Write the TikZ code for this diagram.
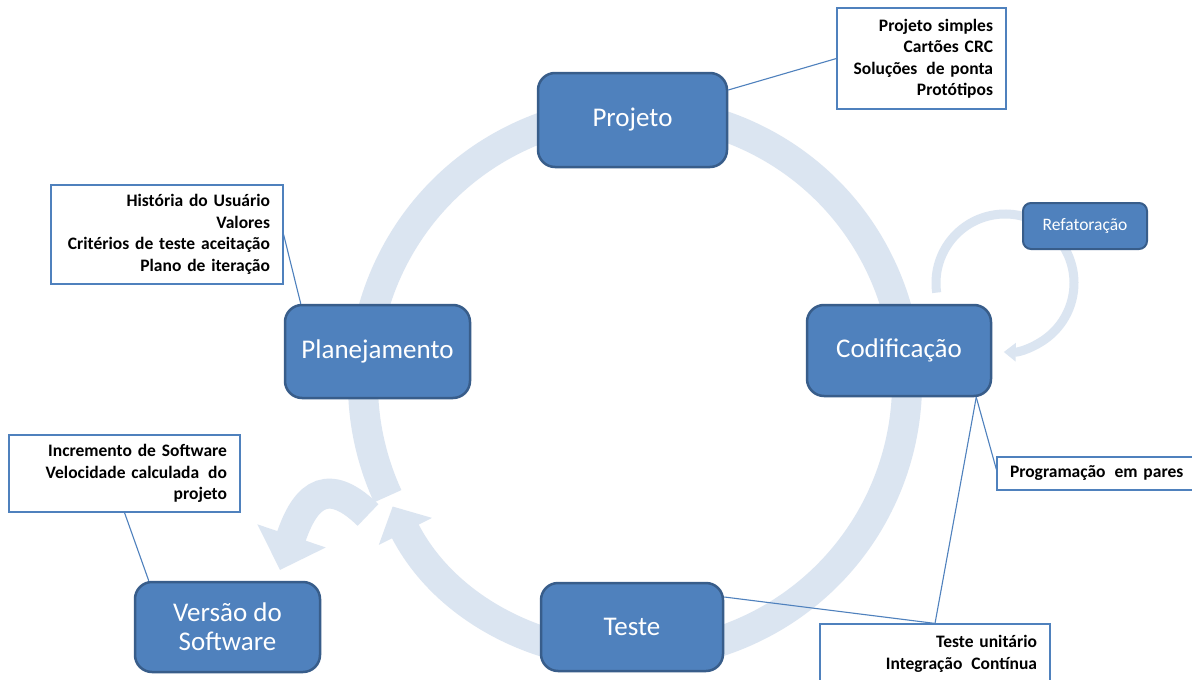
\documentclass[tikz,border=0pt]{standalone}
\usepackage{fontspec}
\setmainfont{Carlito}
\usetikzlibrary{arrows.meta}
\definecolor{boxfill}{RGB}{79,129,189}
\definecolor{boxline}{RGB}{56,93,138}
\definecolor{ringblue}{RGB}{219,229,241}
\definecolor{callline}{RGB}{79,129,189}
\newcommand{\wsp}{\hspace{0.18em} }

\begin{document}
\begin{tikzpicture}[x=1pt,y=-1pt,
  phase/.style={draw=boxline, fill=boxfill, line width=2.5pt, rounded corners=17pt,
    text=white, font=\fontsize{27}{29}\selectfont, align=center, inner sep=0pt},
  note/.style={draw=callline, fill=white, line width=1.2pt,
    font=\bfseries\fontsize{17.5}{21.5}\selectfont, align=right,
    inner xsep=13pt, inner ysep=0pt},
  leader/.style={draw=callline, line width=1.1pt},
  ringline/.style={draw=ringblue, line width=30pt},
]
\useasboundingbox (0,0) rectangle (1192,680);
\clip (0,0) rectangle (1192,680);
\fill[white] (0,0) rectangle (1192,680);

% the iteration cycle
\coordinate (ringc) at (635,383);
\draw[ringline, -{Triangle[length=28pt,width=58pt]}]
  (ringc) ++(155.4:272) arc[start angle=155.4, end angle=513, radius=272];

% branch leaving the cycle towards the release
\coordinate (brs) at (368,515);
\coordinate (brt) at (280,570);
\draw[ringline, -{Triangle[length=36pt,width=70pt]}]
  (brs) .. controls (322,470) and (302,505) .. (brt);

% refactoring loop beside coding
\coordinate (refc) at (1005,283);
\draw[ringline, line width=9pt, -{Triangle[length=12pt,width=18pt]}]
  (refc) ++(172:69) arc[start angle=172, end angle=451, radius=69];

% phases
\node[phase, minimum width=189pt, minimum height=94pt] (proj) at (632.5,120) {Projeto};
\node[phase, minimum width=184pt, minimum height=91pt] (cod) at (899,350.5) {Codificação};
\node[phase, minimum width=185pt, minimum height=93pt] (plan) at (377.5,351.5) {Planejamento};
\node[phase, minimum width=182pt, minimum height=88pt] (teste) at (632,627) {Teste};
\node[phase, minimum width=185pt, minimum height=90pt] (vers) at (227.5,627) {Versão do\\Software};
\node[phase, minimum width=124pt, minimum height=46pt, rounded corners=8pt, line width=2pt,
  font=\fontsize{17.5}{21}\selectfont] (refat) at (1085,226) {Refatoração};

% notes
\node[note, text width=143pt, minimum height=101pt] (ctop) at (921.5,58.5)
  {Projeto simples\\Cartões CRC\\Soluções\wsp de ponta\\Protótipos};
\node[note, text width=206pt, minimum height=99pt] (cleft) at (167,234.5)
  {História do Usuário\\Valores\\Critérios de teste aceitação\\Plano de iteração};
\node[note, text width=205pt, minimum height=77pt] (cver) at (124.5,473.5)
  {Incremento de Software\\Velocidade calculada\wsp do\\projeto};
\node[note, align=left, text width=182pt, minimum height=33pt] (cprog) at (1101,473.5)
  {Programação\wsp em pares};
\node[note, text width=204pt, minimum height=60pt] (ctest) at (935,654)
  {Teste unitário\\Integração\wsp Contínua};

% leader lines
\draw[leader] ([yshift=30pt]proj.east) -- (ctop.west);
\draw[leader] (cleft.east) -- ([xshift=17pt]plan.north west);
\draw[leader] (cver.south) -- ([xshift=15pt]vers.north west);
\draw[leader] ([xshift=-16pt]cod.south east) -- ([yshift=4pt]cprog.west);
\draw[leader] ([xshift=-16pt]cod.south east) -- (ctest.north);
\draw[leader] ([yshift=30pt]teste.east) -- (ctest.north);
\end{tikzpicture}
\end{document}
